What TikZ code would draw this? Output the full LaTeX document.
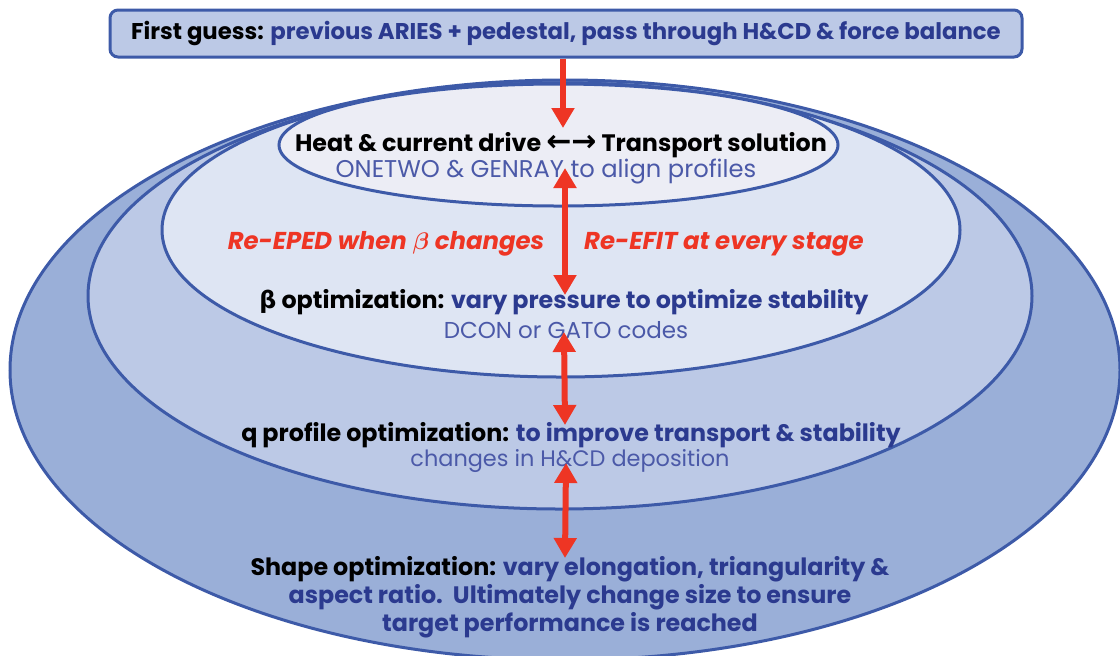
\documentclass[tikz,border=0pt]{standalone}
\usepackage{fontspec}
\setmainfont{Poppins}
\newfontfamily\dejavu{DejaVu Sans}
\usetikzlibrary{arrows.meta}
\definecolor{edgeblue}{RGB}{61,90,168}
\definecolor{fillA}{RGB}{154,175,216}
\definecolor{fillB}{RGB}{188,201,230}
\definecolor{fillC}{RGB}{222,229,243}
\definecolor{fillD}{RGB}{236,237,245}
\definecolor{dkblue}{RGB}{43,58,143}
\definecolor{mdblue}{RGB}{75,89,168}
\definecolor{redc}{RGB}{238,53,36}
\newcommand{\fsz}[1]{\fontsize{#1}{14}\selectfont}
\tikzset{
  ell/.style={draw=edgeblue, line width=1.5pt},
  headtxt/.style={font=\bfseries\fsz{11.9}, inner sep=0pt, text=black},
  subtxt/.style={inner sep=0pt, text=mdblue},
  redtxt/.style={font=\bfseries\itshape\fsz{12.2}, inner sep=0pt, text=redc},
  firstbox/.style={draw=edgeblue, line width=1.5pt, fill=fillB, rounded corners=4pt,
    minimum width=456pt, minimum height=23.5pt, inner sep=0pt,
    font=\bfseries\fsz{11.4}},
  redarr/.style={draw=redc, line width=3pt},
  tipb/.style={-{Triangle[length=10pt,width=11pt]}},
  tipbb/.style={{Triangle[length=10pt,width=11pt]}-{Triangle[length=10pt,width=11pt]}}
}
\begin{document}
\begin{tikzpicture}[x=0.5pt,y=-0.5pt]
\useasboundingbox (0,0) rectangle (1120,655);
% ellipses
\draw[ell, fill=fillA] (565,370) ellipse [x radius=555, y radius=290];
\draw[ell, fill=fillB] (560,296) ellipse [x radius=472, y radius=213];
\draw[ell, fill=fillC] (561,230) ellipse [x radius=399, y radius=147];
\draw[ell, fill=fillD] (558.5,145) ellipse [x radius=279.5, y radius=61];
% top box
\node[firstbox] (first) at (566,33.5) {\raisebox{-1.5pt}{First guess: \textcolor{dkblue}{previous ARIES + pedestal, pass through H\&CD \& force balance}}};
% texts
\node[headtxt] (heat) at (561,145) {Heat \& current drive {\dejavu\bfseries\fsz{15}←→} Transport solution};
\node[subtxt, font=\fsz{12.1}] (onetwo) at (546,172) {ONETWO \& GENRAY to align profiles};
\node[redtxt] (reeped) at (386,244) {Re-EPED when {\boldmath$\beta$} changes};
\node[redtxt] (reefit) at (724,244) {Re-EFIT at every stage};
\node[headtxt] (beta) at (564,302) {{\dejavu\bfseries β} optimization: \textcolor{dkblue}{vary pressure to optimize stability}};
\node[subtxt, font=\fsz{11.5}] (dcon) at (566,330) {DCON or GATO codes};
\node[headtxt] (qprof) at (571,435) {q profile optimization: \textcolor{dkblue}{to improve transport \& stability}};
\node[subtxt, font=\fsz{11.2}] (hcd) at (570,461) {changes in H\&CD deposition};
\node[headtxt, align=center] (shape) at (570,597) {Shape optimization: \textcolor{dkblue}{vary elongation, triangularity \&}\\
\textcolor{dkblue}{aspect ratio.\ \ Ultimately change size to ensure}\\
\textcolor{dkblue}{target performance is reached}};
% arrow end points
\coordinate (a1e) at (563,128);
\coordinate (a2t) at (565,168);
\coordinate (a2b) at (565,295);
\coordinate (a3t) at (564,332);
\coordinate (a3b) at (565,425);
\coordinate (a4t) at (566,463);
\coordinate (a4b) at (565,558);
\draw[redarr, tipb] (first.south -| a1e) -- (a1e);
\draw[redarr, tipbb] (a2t) -- (a2b);
\draw[redarr, tipbb] (a3t) -- (a3b);
\draw[redarr, tipbb] (a4t) -- (a4b);
\end{tikzpicture}
\end{document}
